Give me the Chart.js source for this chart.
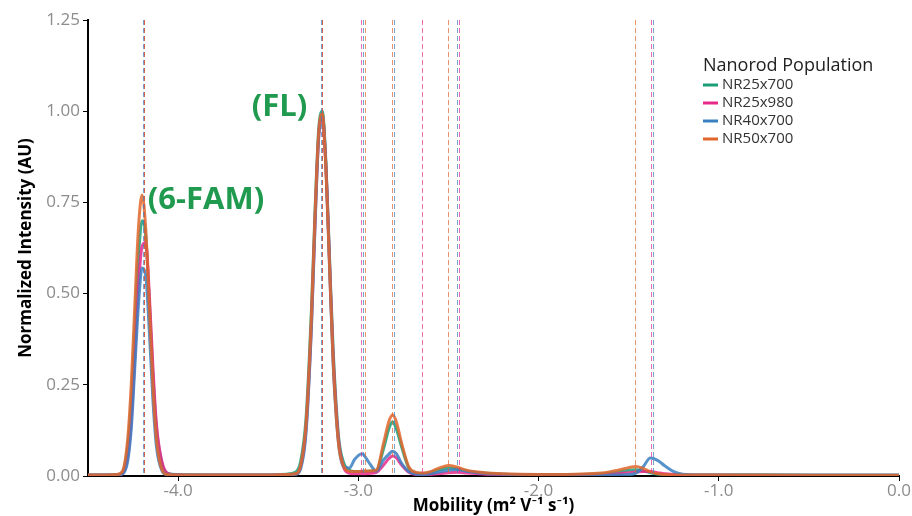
<!DOCTYPE html>
<html>
<head>
<meta charset="utf-8">
<script src="https://cdn.jsdelivr.net/npm/chart.js@4"></script>
<style>
  html, body { margin: 0; padding: 0; background: #fff; }
  #wrap { width: 912px; height: 516px; }
</style>
</head>
<body>
<div id="wrap"><canvas id="mob"></canvas></div>
<script>
// mobility grid (m2 V-1 s-1), shared by all series
const mobility = [
  -4.50, -4.40, -4.34, -4.31, -4.28, -4.26, -4.24, -4.22, -4.20, -4.18, -4.16, -4.14, -4.12, -4.09, -4.06, -4.00, -3.80, -3.50, -3.40,
  -3.35, -3.32, -3.29, -3.26, -3.24, -3.22, -3.20, -3.18, -3.16, -3.14, -3.11, -3.08, -3.05, -3.02,
  -2.98, -2.94, -2.90, -2.86, -2.83, -2.81, -2.79, -2.76, -2.72, -2.68, -2.64, -2.60, -2.55, -2.50, -2.45, -2.40,
  -2.30, -2.20, -2.00, -1.80, -1.65, -1.56, -1.50, -1.46, -1.42, -1.38, -1.34, -1.30, -1.25, -1.20, -1.10, -1.00, -0.50, 0.00
];

// normalized intensity per nanorod population
const nr25x700 = [
  0.003, 0.003, 0.004, 0.010, 0.08, 0.20, 0.40, 0.60, 0.70, 0.66, 0.48, 0.28, 0.13, 0.035, 0.008, 0.004, 0.003, 0.003, 0.005,
  0.010, 0.04, 0.16, 0.46, 0.73, 0.95, 1.00, 0.86, 0.60, 0.35, 0.11, 0.035, 0.016, 0.012,
  0.012, 0.013, 0.015, 0.075, 0.13, 0.149, 0.13, 0.08, 0.022, 0.008, 0.007, 0.010, 0.017, 0.022, 0.020, 0.014,
  0.008, 0.005, 0.004, 0.004, 0.006, 0.011, 0.016, 0.017, 0.014, 0.009, 0.005, 0.004, 0.003, 0.003, 0.003, 0.003, 0.002, 0.002
];
const nr25x980 = [
  0.002, 0.002, 0.002, 0.006, 0.05, 0.15, 0.33, 0.52, 0.63, 0.64, 0.50, 0.30, 0.14, 0.04, 0.008, 0.003, 0.002, 0.002, 0.003,
  0.005, 0.025, 0.13, 0.42, 0.70, 0.93, 0.98, 0.85, 0.59, 0.33, 0.10, 0.022, 0.008, 0.006,
  0.006, 0.007, 0.010, 0.030, 0.048, 0.055, 0.050, 0.030, 0.010, 0.004, 0.003, 0.004, 0.006, 0.009, 0.010, 0.008,
  0.005, 0.003, 0.002, 0.002, 0.003, 0.006, 0.009, 0.011, 0.012, 0.012, 0.009, 0.006, 0.004, 0.003, 0.002, 0.002, 0.001, 0.001
];
const nr40x700 = [
  0.003, 0.003, 0.003, 0.005, 0.04, 0.13, 0.30, 0.47, 0.57, 0.55, 0.40, 0.21, 0.08, 0.015, 0.004, 0.003, 0.003, 0.003, 0.003,
  0.004, 0.02, 0.12, 0.41, 0.69, 0.93, 0.99, 0.85, 0.58, 0.31, 0.09, 0.025, 0.022, 0.046,
  0.061, 0.036, 0.013, 0.044, 0.060, 0.068, 0.062, 0.035, 0.012, 0.005, 0.004, 0.006, 0.011, 0.016, 0.018, 0.013,
  0.007, 0.005, 0.004, 0.003, 0.003, 0.003, 0.004, 0.008, 0.025, 0.049, 0.043, 0.028, 0.012, 0.005, 0.003, 0.003, 0.003, 0.003
];
const nr50x700 = [
  0.003, 0.003, 0.004, 0.012, 0.10, 0.25, 0.47, 0.68, 0.77, 0.68, 0.47, 0.25, 0.10, 0.018, 0.004, 0.003, 0.003, 0.003, 0.004,
  0.006, 0.028, 0.142, 0.441, 0.718, 0.941, 0.993, 0.845, 0.578, 0.319, 0.09, 0.025, 0.013, 0.012,
  0.013, 0.014, 0.016, 0.09, 0.15, 0.168, 0.15, 0.09, 0.025, 0.010, 0.008, 0.012, 0.022, 0.029, 0.024, 0.016,
  0.009, 0.006, 0.004, 0.005, 0.008, 0.016, 0.023, 0.026, 0.021, 0.012, 0.006, 0.004, 0.003, 0.003, 0.003, 0.003, 0.002, 0.002
];

// fitted peak positions (dashed markers)
const peaks25x700 = [-4.192, -3.203];
const peaks25x980 = [-4.190, -3.202, -2.985, -2.644, -2.443, -1.377];
const peaks40x700 = [-4.195, -3.205, -2.975, -2.803, -2.452, -1.366];
const peaks50x700 = [-4.188, -3.200, -2.965, -2.814, -2.504, -1.466];

const seriesNames = ['NR25x700', 'NR25x980', 'NR40x700', 'NR50x700'];
const seriesColors = ['#1b9e77', '#e7298a', '#3a7fc1', '#e0662b'];
const seriesValues = [nr25x700, nr25x980, nr40x700, nr50x700];
const seriesPeaks = [peaks25x700, peaks25x980, peaks40x700, peaks50x700];

const xTicks = [-4.0, -3.0, -2.0, -1.0, 0.0];
const yTicks = [0, 0.25, 0.5, 0.75, 1.0, 1.25];

// peak labels, placed in data units
const labelText = ['(6-FAM)', '(FL)'];
const labelX = [-4.168, -3.592];
const labelY = [0.755, 1.01];

const FONT = '"Open Sans", Lato, sans-serif';

function withAlpha(hex, a) {
  const n = parseInt(hex.slice(1), 16);
  return 'rgba(' + (n >> 16) + ',' + ((n >> 8) & 255) + ',' + (n & 255) + ',' + a + ')';
}

const extras = {
  id: 'extras',
  afterDatasetsDraw(chart) {
    const ctx = chart.ctx;
    const xs = chart.scales.x, ys = chart.scales.y;
    const area = chart.chartArea;
    ctx.save();
    // dashed peak markers
    ctx.lineWidth = 1;
    ctx.setLineDash([5, 3]);
    seriesPeaks.forEach((pk, i) => {
      ctx.strokeStyle = withAlpha(seriesColors[i], 0.7);
      pk.forEach(p => {
        const px = Math.round(xs.getPixelForValue(p)) + 0.5;
        ctx.beginPath();
        ctx.moveTo(px, area.top);
        ctx.lineTo(px, area.bottom);
        ctx.stroke();
      });
    });
    ctx.setLineDash([]);
    // peak labels
    ctx.fillStyle = '#1f9a4f';
    ctx.font = 'bold 31px ' + FONT;
    ctx.textAlign = 'left';
    ctx.textBaseline = 'middle';
    labelText.forEach((t, i) => {
      ctx.fillText(t, xs.getPixelForValue(labelX[i]), ys.getPixelForValue(labelY[i]));
    });
    // legend
    const lx = 703, ly = 66;
    ctx.fillStyle = '#222';
    ctx.font = '18px ' + FONT;
    ctx.fillText('Nanorod Population', lx, ly);
    ctx.font = '15px ' + FONT;
    seriesNames.forEach((name, i) => {
      const y = ly + 19 + i * 18;
      ctx.strokeStyle = seriesColors[i];
      ctx.lineWidth = 3;
      ctx.beginPath();
      ctx.moveTo(lx, y);
      ctx.lineTo(lx + 15, y);
      ctx.stroke();
      ctx.fillStyle = '#333';
      ctx.fillText(name, lx + 19, y);
    });
    ctx.restore();
  }
};

const datasets = seriesNames.map((name, i) => ({
  label: name,
  data: mobility.map((m, j) => ({ x: m, y: seriesValues[i][j] })),
  showLine: true,
  borderColor: withAlpha(seriesColors[i], 0.85),
  backgroundColor: seriesColors[i],
  borderWidth: 3,
  pointRadius: 0,
  cubicInterpolationMode: 'monotone',
  order: seriesNames.length - i
}));

new Chart(document.getElementById('mob'), {
  type: 'scatter',
  data: { datasets: datasets },
  options: {
    responsive: true,
    maintainAspectRatio: false,
    animation: false,
    layout: { padding: { top: 20, right: 13, left: 0, bottom: 0 } },
    plugins: {
      legend: { display: false },
      tooltip: { enabled: false }
    },
    scales: {
      x: {
        type: 'linear',
        min: -4.5,
        max: 0,
        afterBuildTicks: s => { s.ticks = xTicks.map(v => ({ value: v })); },
        afterFit: s => { s.height = 40; },
        grid: { drawOnChartArea: false, drawTicks: true, tickLength: 5, color: '#000', tickColor: '#000' },
        border: { color: '#000', width: 2 },
        ticks: {
          color: '#8c8c8c',
          font: { family: FONT, size: 17 },
          padding: 0,
          maxRotation: 0,
          callback: v => v.toFixed(1)
        },
        title: {
          display: true,
          text: 'Mobility (m² V⁻¹ s⁻¹)',
          color: '#000',
          font: { family: FONT, size: 17, weight: 'bold' },
          padding: { top: 0, bottom: 0 }
        }
      },
      y: {
        min: 0,
        max: 1.25,
        afterBuildTicks: s => { s.ticks = yTicks.map(v => ({ value: v })); },
        afterFit: s => { s.width = 88; },
        grid: { drawOnChartArea: false, drawTicks: true, tickLength: 5, color: '#000', tickColor: '#000' },
        border: { color: '#000', width: 2 },
        ticks: {
          color: '#8c8c8c',
          font: { family: FONT, size: 17 },
          padding: 3,
          callback: v => v.toFixed(2)
        },
        title: {
          display: true,
          text: 'Normalized Intensity (AU)',
          color: '#000',
          font: { family: FONT, size: 17, weight: 'bold' },
          padding: { top: 16, bottom: 0 }
        }
      }
    }
  },
  plugins: [extras]
});
</script>
</body>
</html>
